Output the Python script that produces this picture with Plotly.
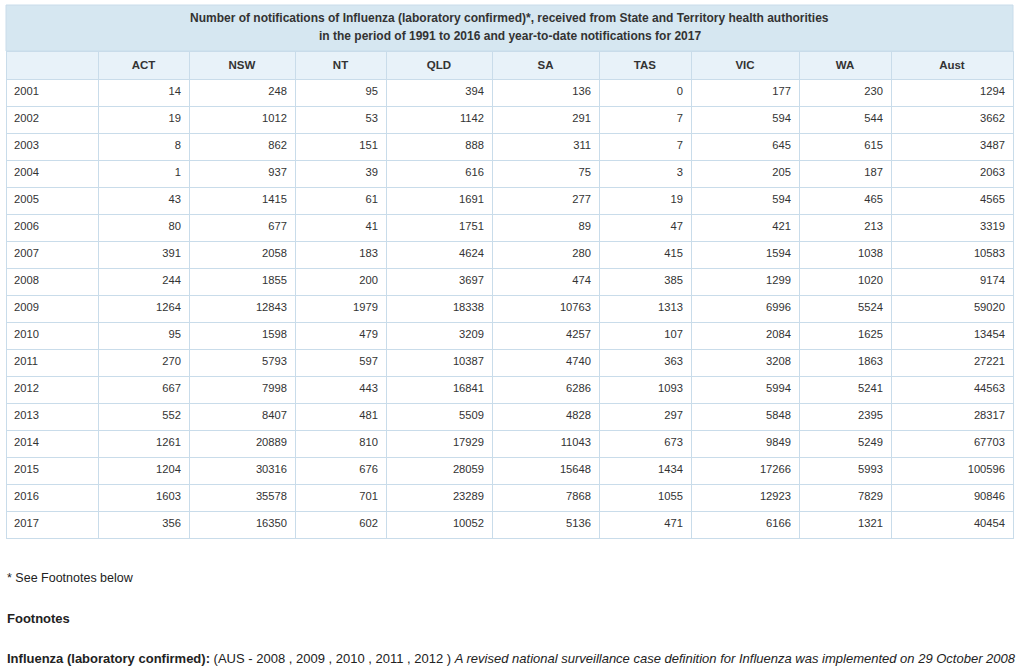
import plotly.graph_objects as go

W, H = 1023, 666

years = [str(y) for y in range(2001, 2018)]
columns = ["", "ACT", "NSW", "NT", "QLD", "SA", "TAS", "VIC", "WA", "Aust"]

act = [14, 19, 8, 1, 43, 80, 391, 244, 1264, 95, 270, 667, 552, 1261, 1204, 1603, 356]
nsw = [248, 1012, 862, 937, 1415, 677, 2058, 1855, 12843, 1598, 5793, 7998, 8407, 20889, 30316, 35578, 16350]
nt = [95, 53, 151, 39, 61, 41, 183, 200, 1979, 479, 597, 443, 481, 810, 676, 701, 602]
qld = [394, 1142, 888, 616, 1691, 1751, 4624, 3697, 18338, 3209, 10387, 16841, 5509, 17929, 28059, 23289, 10052]
sa = [136, 291, 311, 75, 277, 89, 280, 474, 10763, 4257, 4740, 6286, 4828, 11043, 15648, 7868, 5136]
tas = [0, 7, 7, 3, 19, 47, 415, 385, 1313, 107, 363, 1093, 297, 673, 1434, 1055, 471]
vic = [177, 594, 645, 205, 594, 421, 1594, 1299, 6996, 2084, 3208, 5994, 5848, 9849, 17266, 12923, 6166]
wa = [230, 544, 615, 187, 465, 213, 1038, 1020, 5524, 1625, 1863, 5241, 2395, 5249, 5993, 7829, 1321]
aust = [1294, 3662, 3487, 2063, 4565, 3319, 10583, 9174, 59020, 13454, 27221, 44563, 28317, 67703, 100596, 90846, 40454]

title_lines = [
    "Number of notifications of Influenza (laboratory confirmed)*, received from State and Territory health authorities",
    "in the period of 1991 to 2016 and year-to-date notifications for 2017",
]

# column edges in pixels
edges = [6, 98, 189, 295, 386, 492, 599, 691, 799, 891, 1013]
widths = [edges[i + 1] - edges[i] for i in range(len(edges) - 1)]

border = "#c9dcea"
font = "Arial, 'Liberation Sans', sans-serif"


def px(x):
    return x / W


def py(y):
    return 1 - y / H


fig = go.Figure()

fig.add_trace(go.Table(
    domain=dict(x=[px(edges[0]), px(edges[-1])], y=[py(545), py(51)]),
    columnwidth=widths,
    header=dict(
        values=["<b>%s</b>" % c for c in columns],
        fill_color="#e8f2f9",
        line=dict(color=border, width=1),
        align="center",
        height=27,
        font=dict(family=font, size=11.5, color="#333333"),
    ),
    cells=dict(
        values=[years, act, nsw, nt, qld, sa, tas, vic, wa, aust],
        fill_color="white",
        line=dict(color=border, width=1),
        align=["left"] + ["right"] * 9,
        height=27,
        font=dict(family=font, size=11.2, color="#333333"),
    ),
))

# title band above the table
fig.add_shape(type="rect", xref="paper", yref="paper",
              x0=px(6), x1=px(1013), y0=py(51), y1=py(5),
              fillcolor="#d6e7f1", line=dict(color=border, width=1), layer="below")
for i, line in enumerate(title_lines):
    fig.add_annotation(x=px(509.5), y=py(18 + i * 18), xref="paper", yref="paper",
                       xanchor="center", yanchor="middle",
                       text="<b>%s</b>" % line, showarrow=False,
                       font=dict(family=font, size=12, color="#333333"))

# footnotes
fig.add_annotation(x=px(5), y=py(578), xref="paper", yref="paper", xanchor="left", yanchor="middle",
                   text="* See Footnotes below", showarrow=False,
                   font=dict(family=font, size=12.5, color="#222222"))
fig.add_annotation(x=px(5), y=py(618), xref="paper", yref="paper", xanchor="left", yanchor="middle",
                   text="<b>Footnotes</b>", showarrow=False,
                   font=dict(family=font, size=13, color="#222222"))
fig.add_annotation(x=px(5), y=py(658), xref="paper", yref="paper", xanchor="left", yanchor="middle",
                   text="<b>Influenza (laboratory confirmed):</b> (AUS - 2008 , 2009 , 2010 , 2011 , 2012 ) "
                        "<i>A revised national surveillance case definition for Influenza was implemented on 29 October 2008</i>",
                   showarrow=False,
                   font=dict(family=font, size=13, color="#222222"))

fig.update_layout(width=W, height=H, margin=dict(l=0, r=0, t=0, b=0),
                  paper_bgcolor="white", plot_bgcolor="white")

# page body margin would push the figure 8px off
fig.write_html("out.html", config={"displayModeBar": False},
               post_script="document.body.style.margin='0';")
